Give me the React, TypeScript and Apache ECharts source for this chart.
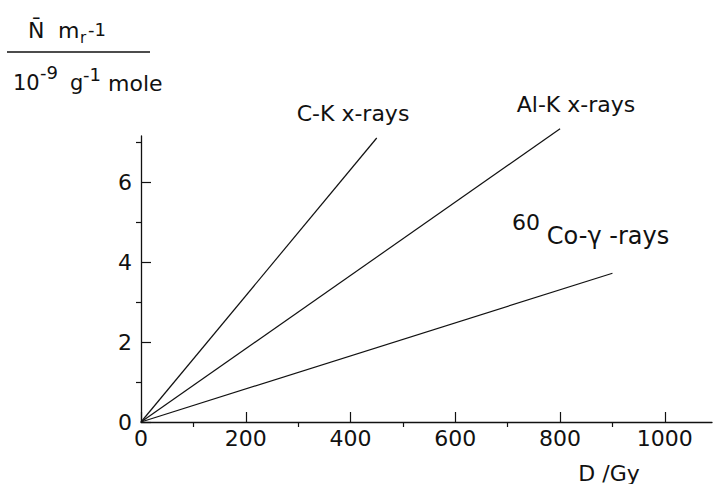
import React, { useEffect, useRef } from "react";
import * as echarts from "echarts";

// Dose axis ticks (Gy) and yield axis ticks
const doseMajorTicks = [0, 200, 400, 600, 800, 1000];
const doseMinorTicks = [100, 300, 500, 700, 900];
const yieldMajorTicks = [0, 2, 4, 6];
const yieldMinorTicks = [1, 3, 5, 7];

// Straight-line dose responses: [dose, yield]
const ckDose = [0, 450];
const ckYield = [0, 7.1];
const alDose = [0, 800];
const alYield = [0, 7.33];
const coDose = [0, 900];
const coYield = [0, 3.72];

const FONT = "DejaVu Sans";
const INK = "#111";

const pairs = (xs: number[], ys: number[]) => xs.map((x, i) => [x, ys[i]]);

const txt = (
  text: string,
  x: number,
  y: number,
  size: number,
  align: "left" | "center" | "right" = "left"
) => ({
  type: "text",
  x,
  y,
  style: {
    text,
    fill: INK,
    font: `${size}px "${FONT}"`,
    textAlign: align,
    textVerticalAlign: "middle",
  },
});

export default function App() {
  const ref = useRef<HTMLDivElement>(null);

  useEffect(() => {
    if (!ref.current) return;
    const chart = echarts.init(ref.current, null, { renderer: "svg" });

    const lineSeries = (name: string, xs: number[], ys: number[]) => ({
      name,
      type: "line",
      data: pairs(xs, ys),
      showSymbol: false,
      symbol: "none",
      clip: false,
      lineStyle: { color: INK, width: 1.2 },
      xAxisIndex: 0,
      yAxisIndex: 0,
    });

    const visibleLine = { show: true, onZero: false, lineStyle: { color: INK, width: 1.3 } };
    const hiddenLine = { show: true, onZero: false, lineStyle: { color: INK, width: 1, opacity: 0 } };
    const tickStyle = { color: INK, width: 1.2 };
    const labelStyle = {
      show: true,
      color: INK,
      fontFamily: FONT,
      fontSize: 22,
      formatter: (v: number) => String(v),
    };

    chart.setOption({
      animation: false,
      backgroundColor: "#fff",
      grid: { left: 141, top: 136, width: 571, height: 286, containLabel: false },
      xAxis: [
        {
          type: "value",
          min: 0,
          max: 1090,
          position: "bottom",
          axisLine: visibleLine,
          splitLine: { show: false },
          axisTick: { show: true, inside: true, length: 10, customValues: doseMajorTicks, lineStyle: tickStyle },
          axisLabel: { ...labelStyle, customValues: doseMajorTicks, margin: 5 },
        },
        {
          // minor dose ticks
          type: "value",
          min: 0,
          max: 1090,
          position: "bottom",
          offset: 0,
          axisLine: hiddenLine,
          splitLine: { show: false },
          axisLabel: { show: false },
          axisTick: { show: true, inside: false, length: 5, customValues: doseMinorTicks, lineStyle: tickStyle },
        },
      ],
      yAxis: [
        {
          type: "value",
          min: 0,
          max: 7.15,
          position: "left",
          axisLine: visibleLine,
          splitLine: { show: false },
          axisTick: { show: true, inside: true, length: 10, customValues: yieldMajorTicks, lineStyle: tickStyle },
          axisLabel: { ...labelStyle, customValues: yieldMajorTicks, margin: 9 },
        },
        {
          // minor yield ticks
          type: "value",
          min: 0,
          max: 7.15,
          position: "left",
          offset: 0,
          axisLine: hiddenLine,
          splitLine: { show: false },
          axisLabel: { show: false },
          axisTick: { show: true, inside: false, length: 5, customValues: yieldMinorTicks, lineStyle: tickStyle },
        },
      ],
      series: [
        lineSeries("C-K x-rays", ckDose, ckYield),
        lineSeries("Al-K x-rays", alDose, alYield),
        lineSeries("60Co-γ-rays", coDose, coYield),
      ],
      graphic: [
        // y-axis quantity written as a fraction
        txt("N\u0304", 28, 30, 22),
        txt("m", 58, 30, 22),
        txt("r", 80, 38, 15),
        txt("-1", 88, 29, 18),
        {
          type: "line",
          shape: { x1: 7, y1: 52, x2: 150, y2: 52 },
          style: { stroke: INK, lineWidth: 1.3 },
        },
        txt("10", 13, 82.5, 21),
        txt("-9", 40, 72.5, 18),
        txt("g", 70, 83, 21),
        txt("-1", 83, 74.5, 18),
        txt("mole", 108, 83, 22),
        // x-axis quantity
        txt("D /Gy", 609, 473, 22, "center"),
        // line annotations
        txt("C-K x-rays", 353, 113, 22, "center"),
        txt("Al-K x-rays", 576, 104, 22, "center"),
        txt("60", 512, 222, 22),
        txt("Co-γ -rays", 608, 236, 24, "center"),
      ],
    });

    return () => chart.dispose();
  }, []);

  return (
    <div
      ref={ref}
      style={{ position: "absolute", left: 0, top: 0, width: 713, height: 484, background: "#fff" }}
    />
  );
}
